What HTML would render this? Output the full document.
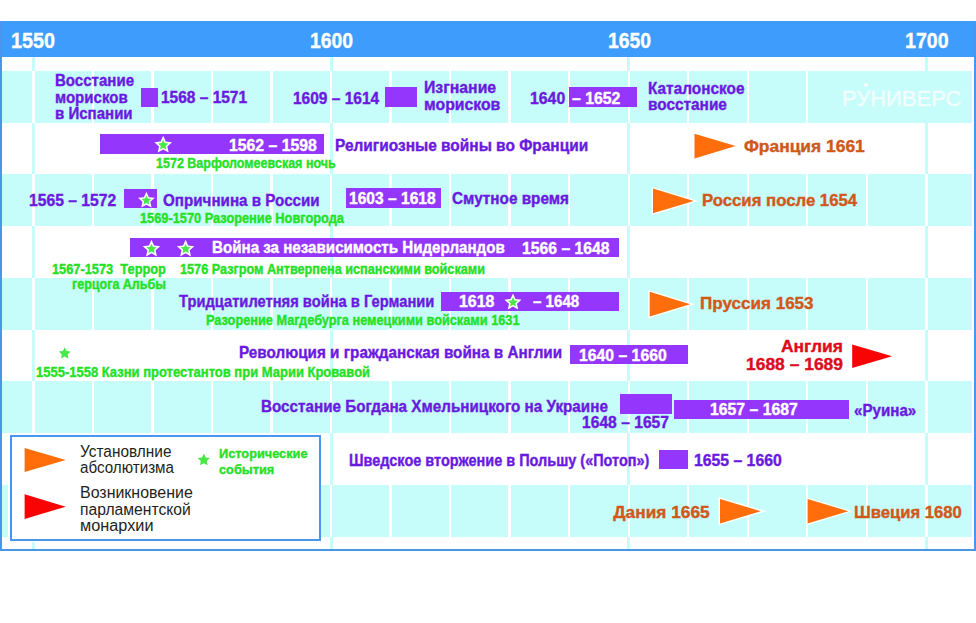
<!DOCTYPE html><html><head><meta charset='utf-8'><style>
:root{--blue:#3e9cfc;--bord:#4896ee;--cyan:#c6fcfa;--ptxt:#6a1ae0;--pbar:#9536fc;--green:#26e026;--sgreen:#48e848;--otxt:#d0581a;--oarr:#ff6e0a;--red:#dc0c1e;--rarr:#f80404}
html,body{margin:0;padding:0;background:#fff;width:976px;height:623px;overflow:hidden;position:relative}
.t{position:absolute;font-family:"Liberation Sans",sans-serif;white-space:pre;transform-origin:0 0;-webkit-text-stroke:0.4px currentColor}
.r{position:absolute}
svg{position:absolute;left:0;top:0}
</style></head><body>
<div class=r style='left:0.00px;top:21.00px;width:976.00px;height:530.00px;background:#ffffff;'></div>
<div class=r style='left:31.90px;top:57.00px;width:3.00px;height:492.00px;background:var(--cyan);'></div>
<div class=r style='left:329.55px;top:57.00px;width:3.00px;height:492.00px;background:var(--cyan);'></div>
<div class=r style='left:627.20px;top:57.00px;width:3.00px;height:492.00px;background:var(--cyan);'></div>
<div class=r style='left:924.85px;top:57.00px;width:3.00px;height:492.00px;background:var(--cyan);'></div>
<div class=r style='left:2.00px;top:70.50px;width:969.50px;height:52.00px;background:var(--cyan);'></div>
<div class=r style='left:32.20px;top:70.50px;width:2.40px;height:52.00px;background:#ffffff;'></div>
<div class=r style='left:91.73px;top:70.50px;width:2.40px;height:52.00px;background:#ffffff;'></div>
<div class=r style='left:151.26px;top:70.50px;width:2.40px;height:52.00px;background:#ffffff;'></div>
<div class=r style='left:210.79px;top:70.50px;width:2.40px;height:52.00px;background:#ffffff;'></div>
<div class=r style='left:270.32px;top:70.50px;width:2.40px;height:52.00px;background:#ffffff;'></div>
<div class=r style='left:329.85px;top:70.50px;width:2.40px;height:52.00px;background:#ffffff;'></div>
<div class=r style='left:389.38px;top:70.50px;width:2.40px;height:52.00px;background:#ffffff;'></div>
<div class=r style='left:448.91px;top:70.50px;width:2.40px;height:52.00px;background:#ffffff;'></div>
<div class=r style='left:508.44px;top:70.50px;width:2.40px;height:52.00px;background:#ffffff;'></div>
<div class=r style='left:567.97px;top:70.50px;width:2.40px;height:52.00px;background:#ffffff;'></div>
<div class=r style='left:627.50px;top:70.50px;width:2.40px;height:52.00px;background:#ffffff;'></div>
<div class=r style='left:687.03px;top:70.50px;width:2.40px;height:52.00px;background:#ffffff;'></div>
<div class=r style='left:746.56px;top:70.50px;width:2.40px;height:52.00px;background:#ffffff;'></div>
<div class=r style='left:806.09px;top:70.50px;width:2.40px;height:52.00px;background:#ffffff;'></div>
<div class=r style='left:865.62px;top:70.50px;width:2.40px;height:52.00px;background:#ffffff;'></div>
<div class=r style='left:925.15px;top:70.50px;width:2.40px;height:52.00px;background:#ffffff;'></div>
<div class=r style='left:2.00px;top:174.00px;width:969.50px;height:52.00px;background:var(--cyan);'></div>
<div class=r style='left:32.20px;top:174.00px;width:2.40px;height:52.00px;background:#ffffff;'></div>
<div class=r style='left:91.73px;top:174.00px;width:2.40px;height:52.00px;background:#ffffff;'></div>
<div class=r style='left:151.26px;top:174.00px;width:2.40px;height:52.00px;background:#ffffff;'></div>
<div class=r style='left:210.79px;top:174.00px;width:2.40px;height:52.00px;background:#ffffff;'></div>
<div class=r style='left:270.32px;top:174.00px;width:2.40px;height:52.00px;background:#ffffff;'></div>
<div class=r style='left:329.85px;top:174.00px;width:2.40px;height:52.00px;background:#ffffff;'></div>
<div class=r style='left:389.38px;top:174.00px;width:2.40px;height:52.00px;background:#ffffff;'></div>
<div class=r style='left:448.91px;top:174.00px;width:2.40px;height:52.00px;background:#ffffff;'></div>
<div class=r style='left:508.44px;top:174.00px;width:2.40px;height:52.00px;background:#ffffff;'></div>
<div class=r style='left:567.97px;top:174.00px;width:2.40px;height:52.00px;background:#ffffff;'></div>
<div class=r style='left:627.50px;top:174.00px;width:2.40px;height:52.00px;background:#ffffff;'></div>
<div class=r style='left:687.03px;top:174.00px;width:2.40px;height:52.00px;background:#ffffff;'></div>
<div class=r style='left:746.56px;top:174.00px;width:2.40px;height:52.00px;background:#ffffff;'></div>
<div class=r style='left:806.09px;top:174.00px;width:2.40px;height:52.00px;background:#ffffff;'></div>
<div class=r style='left:865.62px;top:174.00px;width:2.40px;height:52.00px;background:#ffffff;'></div>
<div class=r style='left:925.15px;top:174.00px;width:2.40px;height:52.00px;background:#ffffff;'></div>
<div class=r style='left:2.00px;top:277.50px;width:969.50px;height:52.00px;background:var(--cyan);'></div>
<div class=r style='left:32.20px;top:277.50px;width:2.40px;height:52.00px;background:#ffffff;'></div>
<div class=r style='left:91.73px;top:277.50px;width:2.40px;height:52.00px;background:#ffffff;'></div>
<div class=r style='left:151.26px;top:277.50px;width:2.40px;height:52.00px;background:#ffffff;'></div>
<div class=r style='left:210.79px;top:277.50px;width:2.40px;height:52.00px;background:#ffffff;'></div>
<div class=r style='left:270.32px;top:277.50px;width:2.40px;height:52.00px;background:#ffffff;'></div>
<div class=r style='left:329.85px;top:277.50px;width:2.40px;height:52.00px;background:#ffffff;'></div>
<div class=r style='left:389.38px;top:277.50px;width:2.40px;height:52.00px;background:#ffffff;'></div>
<div class=r style='left:448.91px;top:277.50px;width:2.40px;height:52.00px;background:#ffffff;'></div>
<div class=r style='left:508.44px;top:277.50px;width:2.40px;height:52.00px;background:#ffffff;'></div>
<div class=r style='left:567.97px;top:277.50px;width:2.40px;height:52.00px;background:#ffffff;'></div>
<div class=r style='left:627.50px;top:277.50px;width:2.40px;height:52.00px;background:#ffffff;'></div>
<div class=r style='left:687.03px;top:277.50px;width:2.40px;height:52.00px;background:#ffffff;'></div>
<div class=r style='left:746.56px;top:277.50px;width:2.40px;height:52.00px;background:#ffffff;'></div>
<div class=r style='left:806.09px;top:277.50px;width:2.40px;height:52.00px;background:#ffffff;'></div>
<div class=r style='left:865.62px;top:277.50px;width:2.40px;height:52.00px;background:#ffffff;'></div>
<div class=r style='left:925.15px;top:277.50px;width:2.40px;height:52.00px;background:#ffffff;'></div>
<div class=r style='left:2.00px;top:381.00px;width:969.50px;height:52.00px;background:var(--cyan);'></div>
<div class=r style='left:32.20px;top:381.00px;width:2.40px;height:52.00px;background:#ffffff;'></div>
<div class=r style='left:91.73px;top:381.00px;width:2.40px;height:52.00px;background:#ffffff;'></div>
<div class=r style='left:151.26px;top:381.00px;width:2.40px;height:52.00px;background:#ffffff;'></div>
<div class=r style='left:210.79px;top:381.00px;width:2.40px;height:52.00px;background:#ffffff;'></div>
<div class=r style='left:270.32px;top:381.00px;width:2.40px;height:52.00px;background:#ffffff;'></div>
<div class=r style='left:329.85px;top:381.00px;width:2.40px;height:52.00px;background:#ffffff;'></div>
<div class=r style='left:389.38px;top:381.00px;width:2.40px;height:52.00px;background:#ffffff;'></div>
<div class=r style='left:448.91px;top:381.00px;width:2.40px;height:52.00px;background:#ffffff;'></div>
<div class=r style='left:508.44px;top:381.00px;width:2.40px;height:52.00px;background:#ffffff;'></div>
<div class=r style='left:567.97px;top:381.00px;width:2.40px;height:52.00px;background:#ffffff;'></div>
<div class=r style='left:627.50px;top:381.00px;width:2.40px;height:52.00px;background:#ffffff;'></div>
<div class=r style='left:687.03px;top:381.00px;width:2.40px;height:52.00px;background:#ffffff;'></div>
<div class=r style='left:746.56px;top:381.00px;width:2.40px;height:52.00px;background:#ffffff;'></div>
<div class=r style='left:806.09px;top:381.00px;width:2.40px;height:52.00px;background:#ffffff;'></div>
<div class=r style='left:865.62px;top:381.00px;width:2.40px;height:52.00px;background:#ffffff;'></div>
<div class=r style='left:925.15px;top:381.00px;width:2.40px;height:52.00px;background:#ffffff;'></div>
<div class=r style='left:2.00px;top:484.50px;width:969.50px;height:52.00px;background:var(--cyan);'></div>
<div class=r style='left:32.20px;top:484.50px;width:2.40px;height:52.00px;background:#ffffff;'></div>
<div class=r style='left:91.73px;top:484.50px;width:2.40px;height:52.00px;background:#ffffff;'></div>
<div class=r style='left:151.26px;top:484.50px;width:2.40px;height:52.00px;background:#ffffff;'></div>
<div class=r style='left:210.79px;top:484.50px;width:2.40px;height:52.00px;background:#ffffff;'></div>
<div class=r style='left:270.32px;top:484.50px;width:2.40px;height:52.00px;background:#ffffff;'></div>
<div class=r style='left:329.85px;top:484.50px;width:2.40px;height:52.00px;background:#ffffff;'></div>
<div class=r style='left:389.38px;top:484.50px;width:2.40px;height:52.00px;background:#ffffff;'></div>
<div class=r style='left:448.91px;top:484.50px;width:2.40px;height:52.00px;background:#ffffff;'></div>
<div class=r style='left:508.44px;top:484.50px;width:2.40px;height:52.00px;background:#ffffff;'></div>
<div class=r style='left:567.97px;top:484.50px;width:2.40px;height:52.00px;background:#ffffff;'></div>
<div class=r style='left:627.50px;top:484.50px;width:2.40px;height:52.00px;background:#ffffff;'></div>
<div class=r style='left:687.03px;top:484.50px;width:2.40px;height:52.00px;background:#ffffff;'></div>
<div class=r style='left:746.56px;top:484.50px;width:2.40px;height:52.00px;background:#ffffff;'></div>
<div class=r style='left:806.09px;top:484.50px;width:2.40px;height:52.00px;background:#ffffff;'></div>
<div class=r style='left:865.62px;top:484.50px;width:2.40px;height:52.00px;background:#ffffff;'></div>
<div class=r style='left:925.15px;top:484.50px;width:2.40px;height:52.00px;background:#ffffff;'></div>
<div class=r style='left:0.00px;top:21.00px;width:976.00px;height:36.00px;background:var(--blue);'></div>
<div class=r style='left:0.00px;top:21.00px;width:2.00px;height:530.00px;background:var(--bord);'></div>
<div class=r style='left:973.50px;top:21.00px;width:2.50px;height:530.00px;background:var(--bord);'></div>
<div class=r style='left:0.00px;top:549.00px;width:976.00px;height:2.00px;background:var(--bord);'></div>
<div class=r style='left:141.20px;top:87.50px;width:16.40px;height:19.50px;background:var(--pbar);'></div>
<div class=r style='left:384.50px;top:87.20px;width:32.40px;height:19.40px;background:var(--pbar);'></div>
<div class=r style='left:569.30px;top:87.30px;width:68.20px;height:19.50px;background:var(--pbar);'></div>
<div class=r style='left:99.80px;top:134.00px;width:224.20px;height:19.70px;background:var(--pbar);'></div>
<div class=r style='left:124.20px;top:189.10px;width:32.70px;height:19.30px;background:var(--pbar);'></div>
<div class=r style='left:346.10px;top:188.30px;width:94.60px;height:19.90px;background:var(--pbar);'></div>
<div class=r style='left:129.70px;top:238.30px;width:489.70px;height:19.20px;background:var(--pbar);'></div>
<div class=r style='left:440.50px;top:291.80px;width:178.90px;height:18.90px;background:var(--pbar);'></div>
<div class=r style='left:569.90px;top:345.30px;width:118.40px;height:19.20px;background:var(--pbar);'></div>
<div class=r style='left:620.00px;top:394.30px;width:52.10px;height:19.60px;background:var(--pbar);'></div>
<div class=r style='left:674.20px;top:399.60px;width:175.10px;height:19.10px;background:var(--pbar);'></div>
<div class=r style='left:658.80px;top:450.30px;width:29.50px;height:19.20px;background:var(--pbar);'></div>
<div class=r style='left:8.00px;top:433.00px;width:313.00px;height:109.00px;background:#ffffff;'></div>
<div class=r style='left:10.00px;top:435.00px;width:311.00px;height:105.50px;background:#ffffff;box-sizing:border-box;border:2px solid var(--bord);'></div>
<svg width='976' height='623' viewBox='0 0 976 623'><polygon points='163.20,135.80 165.77,141.56 172.04,142.23 167.36,146.45 168.67,152.62 163.20,149.47 157.73,152.62 159.04,146.45 154.36,142.23 160.63,141.56' fill='#ffffff'/><polygon points='163.20,139.71 164.69,143.05 168.33,143.43 165.61,145.88 166.37,149.46 163.20,147.64 160.03,149.46 160.79,145.88 158.07,143.43 161.71,143.05' fill='var(--sgreen)'/><polygon points='146.40,191.70 148.83,197.15 154.77,197.78 150.33,201.78 151.57,207.62 146.40,204.64 141.23,207.62 142.47,201.78 138.03,197.78 143.97,197.15' fill='#ffffff'/><polygon points='146.40,195.40 147.81,198.56 151.25,198.92 148.68,201.24 149.40,204.63 146.40,202.90 143.40,204.63 144.12,201.24 141.55,198.92 144.99,198.56' fill='var(--sgreen)'/><polygon points='151.50,239.80 154.04,245.50 160.25,246.16 155.61,250.34 156.91,256.44 151.50,253.32 146.09,256.44 147.39,250.34 142.75,246.16 148.96,245.50' fill='#ffffff'/><polygon points='151.50,243.66 152.97,246.97 156.57,247.35 153.89,249.77 154.64,253.32 151.50,251.51 148.36,253.32 149.11,249.77 146.43,247.35 150.03,246.97' fill='var(--sgreen)'/><polygon points='185.60,239.80 188.14,245.50 194.35,246.16 189.71,250.34 191.01,256.44 185.60,253.32 180.19,256.44 181.49,250.34 176.85,246.16 183.06,245.50' fill='#ffffff'/><polygon points='185.60,243.66 187.07,246.97 190.67,247.35 187.99,249.77 188.74,253.32 185.60,251.51 182.46,253.32 183.21,249.77 180.53,247.35 184.13,246.97' fill='var(--sgreen)'/><polygon points='513.00,293.50 515.46,299.02 521.46,299.65 516.98,303.69 518.23,309.60 513.00,306.58 507.77,309.60 509.02,303.69 504.54,299.65 510.54,299.02' fill='#ffffff'/><polygon points='513.00,297.24 514.43,300.44 517.91,300.80 515.31,303.15 516.03,306.58 513.00,304.83 509.97,306.58 510.69,303.15 508.09,300.80 511.57,300.44' fill='var(--sgreen)'/><polygon points='64.70,347.30 66.52,350.99 70.60,351.58 67.65,354.46 68.34,358.52 64.70,356.60 61.06,358.52 61.75,354.46 58.80,351.58 62.88,350.99' fill='var(--sgreen)'/><polygon points='203.80,453.60 205.68,457.41 209.89,458.02 206.84,460.99 207.56,465.18 203.80,463.20 200.04,465.18 200.76,460.99 197.71,458.02 201.92,457.41' fill='var(--sgreen)'/><polygon points='694.50,133.80 735.70,146.10 694.50,158.40' fill='var(--oarr)'/><polygon points='651.50,186.65 698.30,200.95 651.50,215.25' fill='#ffffff'/><polygon points='653.00,188.60 693.80,200.95 653.00,213.30' fill='var(--oarr)'/><polygon points='648.20,289.85 694.70,304.20 648.20,318.55' fill='#ffffff'/><polygon points='649.70,291.80 690.20,304.20 649.70,316.60' fill='var(--oarr)'/><polygon points='852.20,344.40 892.10,356.20 852.20,368.00' fill='var(--rarr)'/><polygon points='718.50,496.95 766.70,511.20 718.50,525.45' fill='#ffffff'/><polygon points='720.00,498.90 760.70,511.20 720.00,523.50' fill='var(--oarr)'/><polygon points='806.10,496.95 852.30,511.20 806.10,525.45' fill='#ffffff'/><polygon points='807.60,498.90 848.30,511.20 807.60,523.50' fill='var(--oarr)'/><polygon points='24.60,448.00 65.80,460.00 24.60,472.00' fill='var(--oarr)'/><polygon points='24.60,494.30 65.80,506.65 24.60,519.00' fill='var(--rarr)'/></svg>
<div class=r style='left:810.00px;top:70.50px;width:161.50px;height:52.00px;background:var(--cyan);'></div>
<div class=r style='left:863.8px;top:82.8px;width:4px;height:4px;border-radius:50%;background:#f1fefd'></div>
<div class=t style='left:11.42px;top:30px;font-size:22.40px;line-height:22.40px;font-weight:bold;color:#ffffff;transform:scaleX(0.8833);'>1550</div>
<div class=t style='left:309.84px;top:30px;font-size:22.40px;line-height:22.40px;font-weight:bold;color:#ffffff;transform:scaleX(0.8625);'>1600</div>
<div class=t style='left:607.94px;top:30px;font-size:22.40px;line-height:22.40px;font-weight:bold;color:#ffffff;transform:scaleX(0.8625);'>1650</div>
<div class=t style='left:905.12px;top:30px;font-size:22.40px;line-height:22.40px;font-weight:bold;color:#ffffff;transform:scaleX(0.8750);'>1700</div>
<div class=t style='left:55.20px;top:73px;font-size:16.70px;line-height:16.70px;font-weight:bold;color:var(--ptxt);transform:scaleX(0.9012);'>Восстание</div>
<div class=t style='left:55.20px;top:90px;font-size:16.70px;line-height:16.70px;font-weight:bold;color:var(--ptxt);transform:scaleX(0.9012);'>морисков</div>
<div class=t style='left:55.20px;top:106px;font-size:16.70px;line-height:16.70px;font-weight:bold;color:var(--ptxt);transform:scaleX(0.9012);'>в Испании</div>
<div class=t style='left:161.37px;top:90px;font-size:16.70px;line-height:16.70px;font-weight:bold;color:var(--ptxt);transform:scaleX(0.9275);'>1568 – 1571</div>
<div class=t style='left:293.07px;top:91px;font-size:16.70px;line-height:16.70px;font-weight:bold;color:var(--ptxt);transform:scaleX(0.9283);'>1609 – 1614</div>
<div class=t style='left:424.15px;top:80px;font-size:16.70px;line-height:16.70px;font-weight:bold;color:var(--ptxt);transform:scaleX(0.9467);'>Изгнание</div>
<div class=t style='left:424.15px;top:97px;font-size:16.70px;line-height:16.70px;font-weight:bold;color:var(--ptxt);transform:scaleX(0.9467);'>морисков</div>
<div class=t style='left:529.55px;top:91px;font-size:16.70px;line-height:16.70px;font-weight:bold;color:var(--ptxt);transform:scaleX(0.9486);'>1640</div>
<div class=t style='left:572.00px;top:91px;font-size:16.70px;line-height:16.70px;font-weight:bold;color:#ffffff;transform:scaleX(0.9480);'>– 1652</div>
<div class=t style='left:647.58px;top:81px;font-size:16.70px;line-height:16.70px;font-weight:bold;color:var(--ptxt);transform:scaleX(0.9214);'>Каталонское</div>
<div class=t style='left:647.58px;top:97px;font-size:16.70px;line-height:16.70px;font-weight:bold;color:var(--ptxt);transform:scaleX(0.9214);'>восстание</div>
<div class=t style='left:229.15px;top:138px;font-size:16.70px;line-height:16.70px;font-weight:bold;color:#ffffff;transform:scaleX(0.9462);'>1562 – 1598</div>
<div class=t style='left:155.81px;top:156px;font-size:14.00px;line-height:14.00px;font-weight:bold;color:var(--green);transform:scaleX(0.8940);'>1572 Варфоломеевская ночь</div>
<div class=t style='left:335.17px;top:138px;font-size:16.70px;line-height:16.70px;font-weight:bold;color:var(--ptxt);transform:scaleX(0.9258);'>Религиозные войны во Франции</div>
<div class=t style='left:744.19px;top:138px;font-size:17.30px;line-height:17.30px;font-weight:bold;color:var(--otxt);transform:scaleX(1.0068);'>Франция 1661</div>
<div class=t style='left:28.66px;top:193px;font-size:16.70px;line-height:16.70px;font-weight:bold;color:var(--ptxt);transform:scaleX(0.9385);'>1565 – 1572</div>
<div class=t style='left:163.39px;top:193px;font-size:16.70px;line-height:16.70px;font-weight:bold;color:var(--ptxt);transform:scaleX(0.9100);'>Опричнина в России</div>
<div class=t style='left:139.89px;top:211px;font-size:14.00px;line-height:14.00px;font-weight:bold;color:var(--green);transform:scaleX(0.9135);'>1569-1570 Разорение Новгорода</div>
<div class=t style='left:349.37px;top:191px;font-size:16.70px;line-height:16.70px;font-weight:bold;color:#ffffff;transform:scaleX(0.9341);'>1603 – 1618</div>
<div class=t style='left:452.08px;top:191px;font-size:16.70px;line-height:16.70px;font-weight:bold;color:var(--ptxt);transform:scaleX(0.9167);'>Смутное время</div>
<div class=t style='left:702.43px;top:192px;font-size:17.30px;line-height:17.30px;font-weight:bold;color:var(--otxt);transform:scaleX(0.9686);'>Россия после 1654</div>
<div class=t style='left:212.29px;top:240px;font-size:16.70px;line-height:16.70px;font-weight:bold;color:#ffffff;transform:scaleX(0.9072);'>Война за независимость Нидерландов</div>
<div class=t style='left:521.96px;top:241px;font-size:16.70px;line-height:16.70px;font-weight:bold;color:#ffffff;transform:scaleX(0.9440);'>1566 – 1648</div>
<div class=t style='left:51.89px;top:262px;font-size:14.00px;line-height:14.00px;font-weight:bold;color:var(--green);transform:scaleX(0.9146);'>1567-1573  Террор</div>
<div class=t style='left:72.31px;top:277px;font-size:14.00px;line-height:14.00px;font-weight:bold;color:var(--green);transform:scaleX(0.8942);'>герцога Альбы</div>
<div class=t style='left:179.60px;top:262px;font-size:14.00px;line-height:14.00px;font-weight:bold;color:var(--green);transform:scaleX(0.9045);'>1576 Разгром Антверпена испанскими войсками</div>
<div class=t style='left:179.30px;top:294px;font-size:16.70px;line-height:16.70px;font-weight:bold;color:var(--ptxt);transform:scaleX(0.8810);'>Тридцатилетняя война в Германии</div>
<div class=t style='left:459.24px;top:294px;font-size:16.70px;line-height:16.70px;font-weight:bold;color:#ffffff;transform:scaleX(0.9556);'>1618</div>
<div class=t style='left:532.70px;top:294px;font-size:16.70px;line-height:16.70px;font-weight:bold;color:#ffffff;transform:scaleX(0.9059);'>– 1648</div>
<div class=t style='left:205.99px;top:313px;font-size:14.00px;line-height:14.00px;font-weight:bold;color:var(--green);transform:scaleX(0.9105);'>Разорение Магдебурга немецкими войсками 1631</div>
<div class=t style='left:700.31px;top:295px;font-size:17.30px;line-height:17.30px;font-weight:bold;color:var(--otxt);transform:scaleX(0.9868);'>Пруссия 1653</div>
<div class=t style='left:35.57px;top:365px;font-size:14.00px;line-height:14.00px;font-weight:bold;color:var(--green);transform:scaleX(0.9282);'>1555-1558 Казни протестантов при Марии Кровавой</div>
<div class=t style='left:238.88px;top:345px;font-size:16.70px;line-height:16.70px;font-weight:bold;color:var(--ptxt);transform:scaleX(0.9151);'>Революция и гражданская война в Англии</div>
<div class=t style='left:579.25px;top:348px;font-size:16.70px;line-height:16.70px;font-weight:bold;color:#ffffff;transform:scaleX(0.9451);'>1640 – 1660</div>
<div class=t style='left:781.48px;top:338px;font-size:17.00px;line-height:17.00px;font-weight:bold;color:var(--red);transform:scaleX(1.0241);'>Англия</div>
<div class=t style='left:745.57px;top:356px;font-size:17.00px;line-height:17.00px;font-weight:bold;color:var(--red);transform:scaleX(1.0258);'>1688 – 1689</div>
<div class=t style='left:261.39px;top:399px;font-size:16.70px;line-height:16.70px;font-weight:bold;color:var(--ptxt);transform:scaleX(0.9129);'>Восстание Богдана Хмельницкого на Украине</div>
<div class=t style='left:710.05px;top:402px;font-size:16.70px;line-height:16.70px;font-weight:bold;color:#ffffff;transform:scaleX(0.9462);'>1657 – 1687</div>
<div class=t style='left:581.76px;top:415px;font-size:16.70px;line-height:16.70px;font-weight:bold;color:var(--ptxt);transform:scaleX(0.9374);'>1648 – 1657</div>
<div class=t style='left:853.59px;top:403px;font-size:16.70px;line-height:16.70px;font-weight:bold;color:var(--ptxt);transform:scaleX(0.9075);'>«Руина»</div>
<div class=t style='left:348.83px;top:453px;font-size:16.70px;line-height:16.70px;font-weight:bold;color:var(--ptxt);transform:scaleX(0.8675);'>Шведское вторжение в Польшу («Потоп»)</div>
<div class=t style='left:693.65px;top:453px;font-size:16.70px;line-height:16.70px;font-weight:bold;color:var(--ptxt);transform:scaleX(0.9451);'>1655 – 1660</div>
<div class=t style='left:613.30px;top:504px;font-size:17.30px;line-height:17.30px;font-weight:bold;color:var(--otxt);'>Дания 1665</div>
<div class=t style='left:853.54px;top:504px;font-size:17.30px;line-height:17.30px;font-weight:bold;color:var(--otxt);transform:scaleX(0.9627);'>Швеция 1680</div>
<div class=t style='left:842.26px;top:87px;font-size:22.70px;line-height:22.70px;font-weight:normal;color:#f1fefd;transform:scaleX(0.9692);'>РУНИВЕРС</div>
<div class=t style='left:79.83px;top:444px;font-size:15.80px;line-height:15.80px;font-weight:normal;color:#231f20;transform:scaleX(0.9750);-webkit-text-stroke:0;'>Установлние</div>
<div class=t style='left:79.84px;top:460px;font-size:15.80px;line-height:15.80px;font-weight:normal;color:#231f20;transform:scaleX(0.9608);-webkit-text-stroke:0;'>абсолютизма</div>
<div class=t style='left:79.79px;top:485px;font-size:15.80px;line-height:15.80px;font-weight:normal;color:#231f20;transform:scaleX(1.0100);-webkit-text-stroke:0;'>Возникновение</div>
<div class=t style='left:79.81px;top:502px;font-size:15.80px;line-height:15.80px;font-weight:normal;color:#231f20;transform:scaleX(0.9927);-webkit-text-stroke:0;'>парламентской</div>
<div class=t style='left:79.77px;top:518px;font-size:15.80px;line-height:15.80px;font-weight:normal;color:#231f20;transform:scaleX(1.0304);-webkit-text-stroke:0;'>монархии</div>
<div class=t style='left:219.46px;top:447px;font-size:13.60px;line-height:13.60px;font-weight:bold;color:var(--green);transform:scaleX(0.9387);'>Исторические</div>
<div class=t style='left:219.46px;top:463px;font-size:13.60px;line-height:13.60px;font-weight:bold;color:var(--green);transform:scaleX(0.9387);'>события</div>
</body></html>
